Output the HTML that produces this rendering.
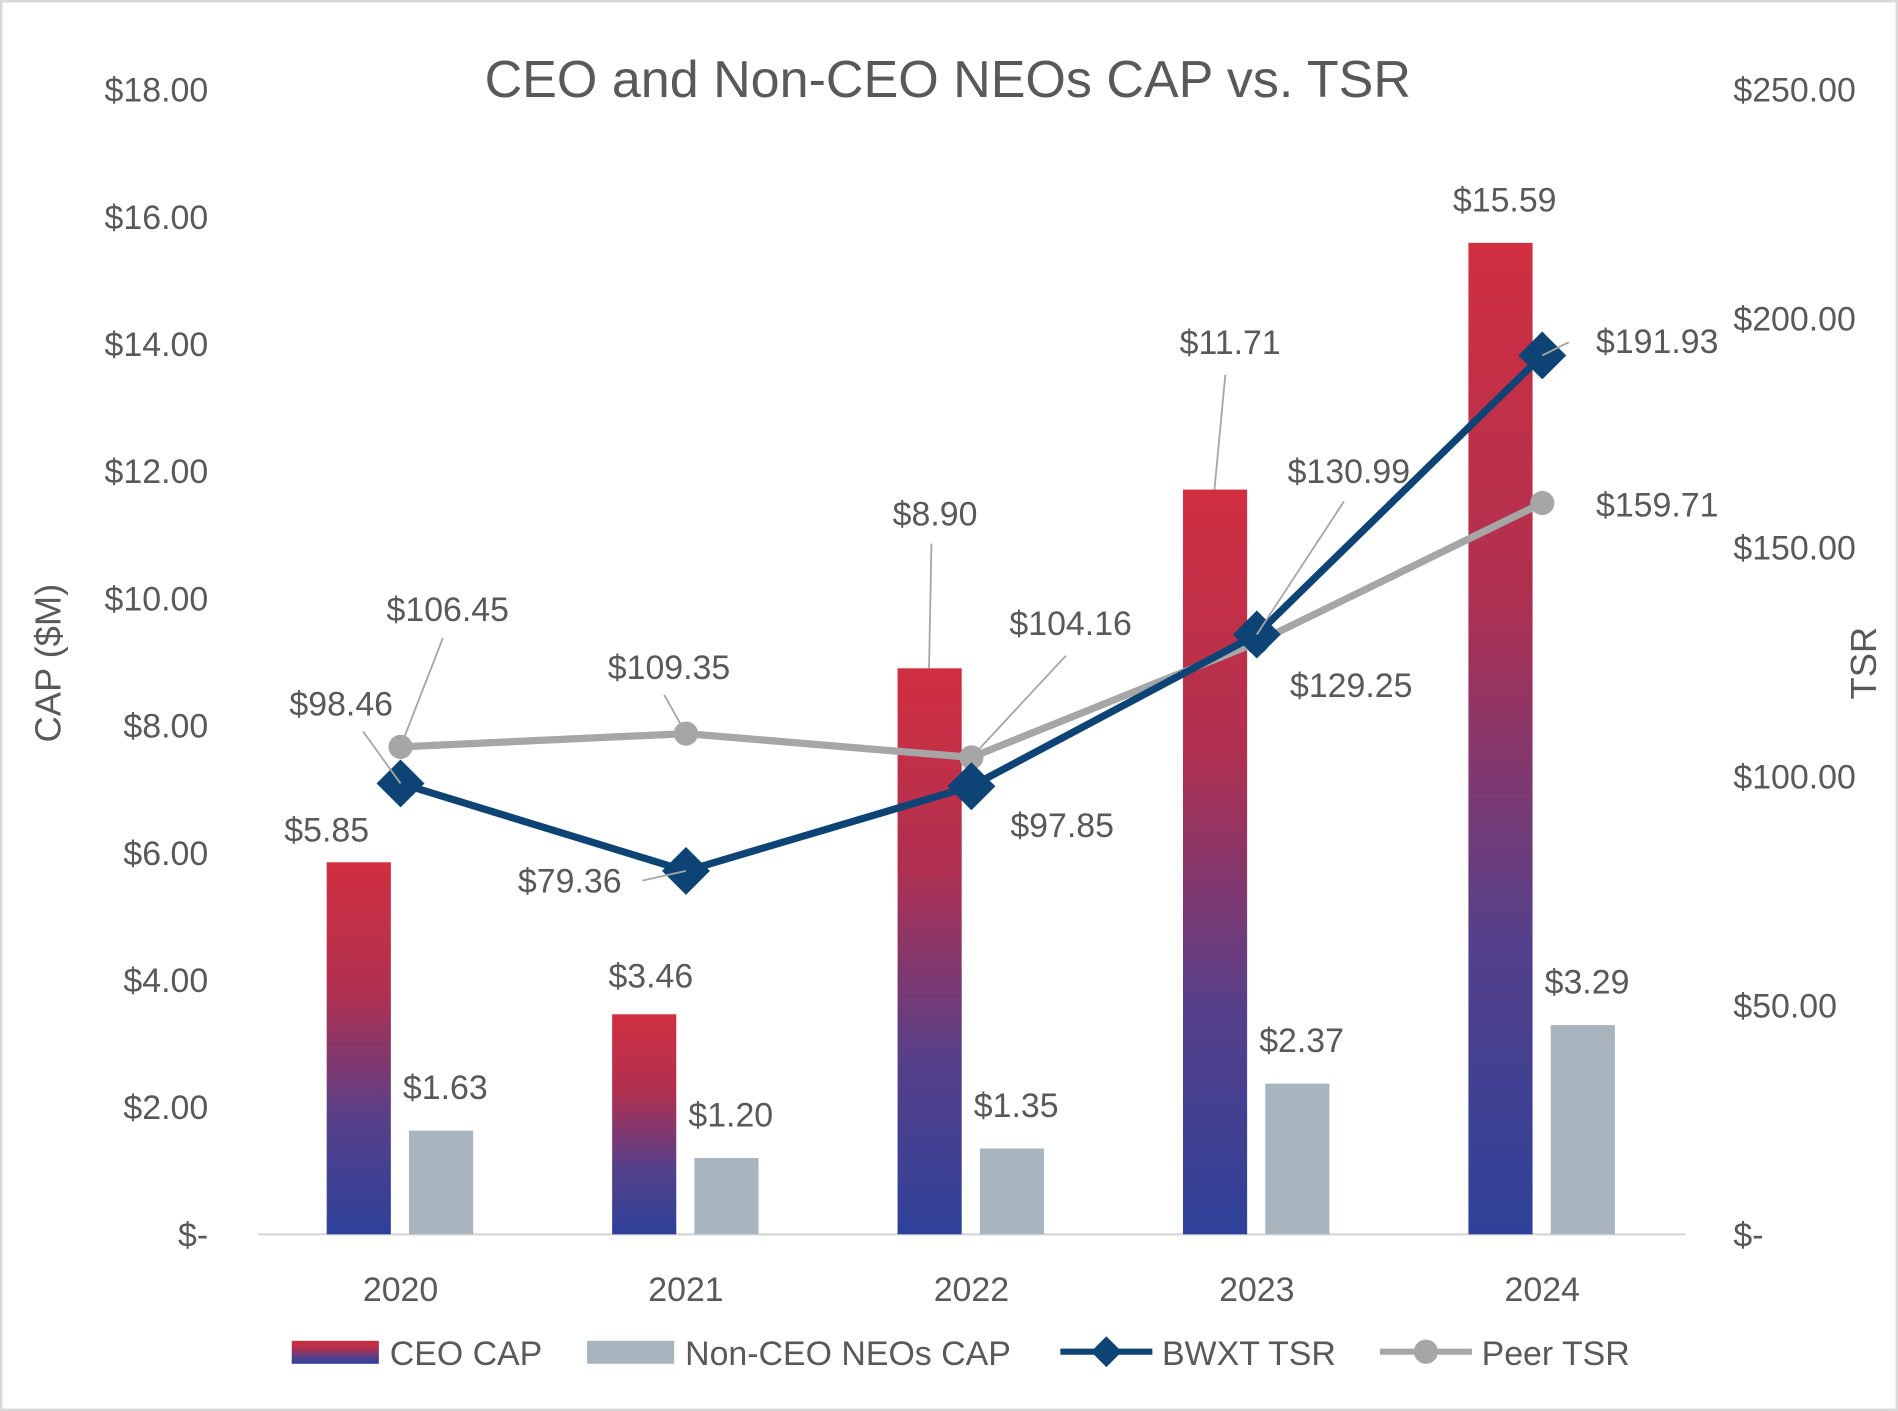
<!DOCTYPE html>
<html><head><meta charset="utf-8"><style>
html,body{margin:0;padding:0;background:#fff}
svg{display:block}
text{font-family:"Liberation Sans",sans-serif;fill:#595959}
</style></head><body>
<svg id="chart" width="1898" height="1411" viewBox="0 0 1568 1166" preserveAspectRatio="none" xmlns="http://www.w3.org/2000/svg">
<defs><linearGradient id="ceoGrad" x1="0" y1="0" x2="0" y2="1">
<stop offset="0" stop-color="#d02f40"/><stop offset="0.35" stop-color="#b03050"/><stop offset="0.7" stop-color="#55408a"/><stop offset="1" stop-color="#2e4199"/></linearGradient></defs>
<rect x="1" y="1" width="1566" height="1164" fill="#fff" stroke="#d9d9d9" stroke-width="2"/>
<text x="783" y="80" text-anchor="middle" font-size="43">CEO and Non-CEO NEOs CAP vs. TSR</text>
<g id="axes"></g><g id="bars"></g><g id="lines"></g><g id="labels"></g>
<text transform="translate(50,548) rotate(-90)" text-anchor="middle" font-size="30">CAP ($M)</text>
<text transform="translate(1550,548) rotate(-90)" text-anchor="middle" font-size="30">TSR</text>
<g id="legend">
<rect x="241" y="1108" width="72" height="19" fill="url(#ceoGrad)"/>
<text x="322" y="1128" font-size="28">CEO CAP</text>
<rect x="485" y="1108" width="72" height="19" fill="#a9b5be"/>
<text x="566" y="1128" font-size="28">Non-CEO NEOs CAP</text>
<line x1="876" y1="1117" x2="952" y2="1117" stroke="#0d4475" stroke-width="5"/>
<rect x="905" y="1108" width="18" height="18" fill="#0d4475" transform="rotate(45 914 1117)"/>
<text x="960" y="1128" font-size="28">BWXT TSR</text>
<line x1="1140" y1="1117" x2="1216" y2="1117" stroke="#a6a6a6" stroke-width="5"/>
<circle cx="1178" cy="1117" r="10" fill="#a6a6a6"/>
<text x="1224" y="1128" font-size="28">Peer TSR</text>
</g>
</svg>
<script>
const years = ["2020","2021","2022","2023","2024"];
const ceoCap = [5.85, 3.46, 8.90, 11.71, 15.59];
const nonCeoCap = [1.63, 1.20, 1.35, 2.37, 3.29];
const bwxtTsr = [98.46, 79.36, 97.85, 130.99, 191.93];
const peerTsr = [106.45, 109.35, 104.16, 129.25, 159.71];
const leftTicks = [0,2,4,6,8,10,12,14,16,18];
const rightTicks = [0,50,100,150,200,250];

const NS="http://www.w3.org/2000/svg";
const Y0=1020, YT=74, X0=213, X1=1392;
const yL=v=>Y0-(v/18)*(Y0-YT);
const yR=v=>Y0-(v/250)*(Y0-YT);
const xC=i=>X0+(X1-X0)/years.length*(i+0.5);
function mk(tag,attrs,parent,txt){const e=document.createElementNS(NS,tag);for(const k in attrs)e.setAttribute(k,attrs[k]);if(txt!==undefined)e.textContent=txt;document.getElementById(parent).appendChild(e);return e;}
const fmt=v=>"$"+v.toFixed(2);

leftTicks.forEach(t=>{const e=mk("text",{x:172,y:yL(t)+10,"text-anchor":"end","font-size":28},"axes",t===0?"$-":fmt(t));

});
rightTicks.forEach(t=>{const e=mk("text",{x:1432,y:yR(t)+10,"font-size":28},"axes",t===0?"$-":fmt(t));

});
const ax=mk("line",{x1:X0,y1:Y0,x2:X1,y2:Y0,stroke:"#d9d9d9","stroke-width":2},"axes");


years.forEach((y,i)=>{const e=mk("text",{x:xC(i),y:1075,"text-anchor":"middle","font-size":28},"axes",y);

});

const BW=53;
years.forEach((y,i)=>{
 const c=xC(i);
 const b1=mk("rect",{x:c-61,y:yL(ceoCap[i]),width:BW,height:Y0-yL(ceoCap[i]),fill:"url(#ceoGrad)"},"bars");
 
 
 const b2=mk("rect",{x:c+7,y:yL(nonCeoCap[i]),width:BW,height:Y0-yL(nonCeoCap[i]),fill:"#a9b5be"},"bars");
 
 
});

function series(vals,color,name,marker){
 const pts=vals.map((v,i)=>xC(i)+","+yR(v)).join(" ");
 const l=mk("polyline",{points:pts,fill:"none",stroke:color,"stroke-width":6,"stroke-linejoin":"round"},"lines");
 
 
 vals.forEach((v,i)=>{let m;
  if(marker==="d") m=mk("rect",{x:xC(i)-14,y:yR(v)-14,width:28,height:28,fill:color,transform:`rotate(45 ${xC(i)} ${yR(v)})`},"lines");
  else m=mk("circle",{cx:xC(i),cy:yR(v),r:10,fill:color},"lines");
  
  
 });
}
series(peerTsr,"#a6a6a6","peer-tsr","c");
series(bwxtTsr,"#0d4475","bwxt-tsr","d");

// label layout relative to mark anchor: [dx, dy, leaderEndDx, leaderEndDy]
const ceoLblOff=[[-26,-27],[6,-32],[5,-128,2,-103],[13,-122,9,-95],[4,-36]];
const nonLblOff=[[4,-36],[4,-36],[4,-36],[4,-36],[4,-36]];
const bwxtLblOff=[[-49,-66,-31,-43],[-96,8,-36,8],[75,32],[76,-135,72,-110],[95,-12,22,-11]];
const peerLblOff=[[39,-114,35,-90],[-14,-55,-18,-32],[82,-111,78,-84],[78,35],[95,1]];
function labels(vals,xs,ys,off,name){
 vals.forEach((v,i)=>{const x=xs(i),y=ys(v),o=off[i];const lx=x+o[0],ly=y+o[1];
  if(o.length>2){const ln=mk("line",{x1:x,y1:y,x2:x+o[2],y2:y+o[3],stroke:"#a6a6a6","stroke-width":1.5},"labels");
   
   }
  const t=mk("text",{x:lx,y:ly+10,"text-anchor":"middle","font-size":28},"labels",fmt(v));
  
  
 });
}
labels(ceoCap,i=>xC(i)-35,v=>yL(v),ceoLblOff,"ceo-cap");
labels(nonCeoCap,i=>xC(i)+33,v=>yL(v),nonLblOff,"non-ceo-cap");
labels(bwxtTsr,xC,yR,bwxtLblOff,"bwxt-tsr");
labels(peerTsr,xC,yR,peerLblOff,"peer-tsr");
</script>
</body></html>
